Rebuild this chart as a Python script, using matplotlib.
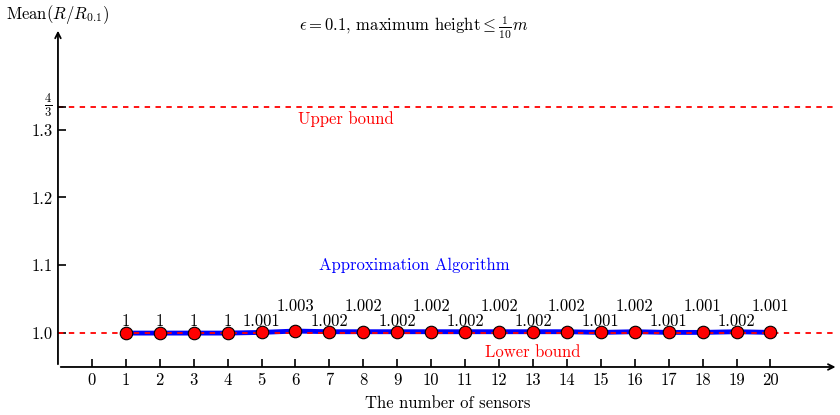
import matplotlib
matplotlib.use('Agg')
import matplotlib.pyplot as plt
import numpy as np

plt.rcParams['font.family'] = 'serif'
plt.rcParams['font.serif'] = ['cmr10', 'DejaVu Serif']
plt.rcParams['mathtext.fontset'] = 'cm'
plt.rcParams['axes.formatter.use_mathtext'] = True

sensors = list(range(1, 21))
mean_ratio = [1, 1, 1, 1, 1.001, 1.003, 1.002, 1.002, 1.002, 1.002,
              1.002, 1.002, 1.002, 1.002, 1.001, 1.002, 1.001, 1.001, 1.002, 1.001]
value_labels = ['1', '1', '1', '1', '1.001', '1.003', '1.002', '1.002', '1.002', '1.002',
                '1.002', '1.002', '1.002', '1.002', '1.001', '1.002', '1.001', '1.001', '1.002', '1.001']
lower_bound = 1.0
upper_bound = 4 / 3

fs = 12

fig = plt.figure(figsize=(8.4, 4.15), dpi=100)
ax = fig.add_axes([0.069, 0.1157, 0.929, 0.817])
ax.set_xlim(-1, 22)
ax.set_ylim(0.95, 1.45)

# bounds
ax.axhline(upper_bound, color='red', ls=(0, (3, 3)), lw=1.3, zorder=1)
ax.axhline(lower_bound, color='red', ls=(0, (3, 3)), lw=1.3, zorder=3)

# algorithm curve
ax.plot(sensors, mean_ratio, color='blue', lw=3.5, zorder=2)
ax.plot(sensors, mean_ratio, ls='none', marker='o', ms=9, mfc='red', mec='black',
        mew=0.8, zorder=4)

# value labels, staggered
for x, y, s in zip(sensors, mean_ratio, value_labels):
    off = 27 if (x >= 6 and x % 2 == 0) else 12
    ax.annotate(s, (x, lower_bound), xytext=(0, off), textcoords='offset pixels',
                ha='center', va='center', fontsize=fs)

ax.text(13, 0.972, 'Lower bound', color='red', ha='center', va='center', fontsize=fs)
ax.text(7.5, 1.316, 'Upper bound', color='red', ha='center', va='center', fontsize=fs)
ax.text(9.5, 1.1, 'Approximation Algorithm', color='blue', ha='center', va='center', fontsize=fs)

# axes as arrows
for sp in ax.spines.values():
    sp.set_visible(False)
ax.annotate('', xy=(1.0, 0), xytext=(0, 0), xycoords='axes fraction',
            arrowprops=dict(arrowstyle='->', lw=1.3, color='black'))
ax.annotate('', xy=(0, 1.0), xytext=(0, 0), xycoords='axes fraction',
            arrowprops=dict(arrowstyle='->', lw=1.3, color='black'))

ax.set_xticks(range(0, 21))
ax.set_xticklabels([str(i) for i in range(0, 21)])
ax.set_yticks([1.0, 1.1, 1.2, 1.3, upper_bound])
ax.set_yticklabels(['1.0', '1.1', '1.2', '1.3', ''])
ax.tick_params(direction='in', length=6, width=1.2, labelsize=fs, pad=4)
# 4/3 label nudged up a little so it clears 1.3
ax.annotate(r'$\frac{4}{3}$', (-1, upper_bound), xytext=(-6, 2), textcoords='offset pixels',
            ha='right', va='center', fontsize=13, annotation_clip=False)

ax.set_xlabel('The number of sensors', fontsize=fs, labelpad=6)
fig.text(0.069, 0.965, r'Mean$(R/R_{0.1})$', ha='center', va='center', fontsize=fs)
fig.text(0.492, 0.932, r'$\epsilon=0.1$, maximum height$\leq\frac{1}{10}m$', ha='center',
         va='center', fontsize=fs)

fig.savefig('out.png', dpi=100)
